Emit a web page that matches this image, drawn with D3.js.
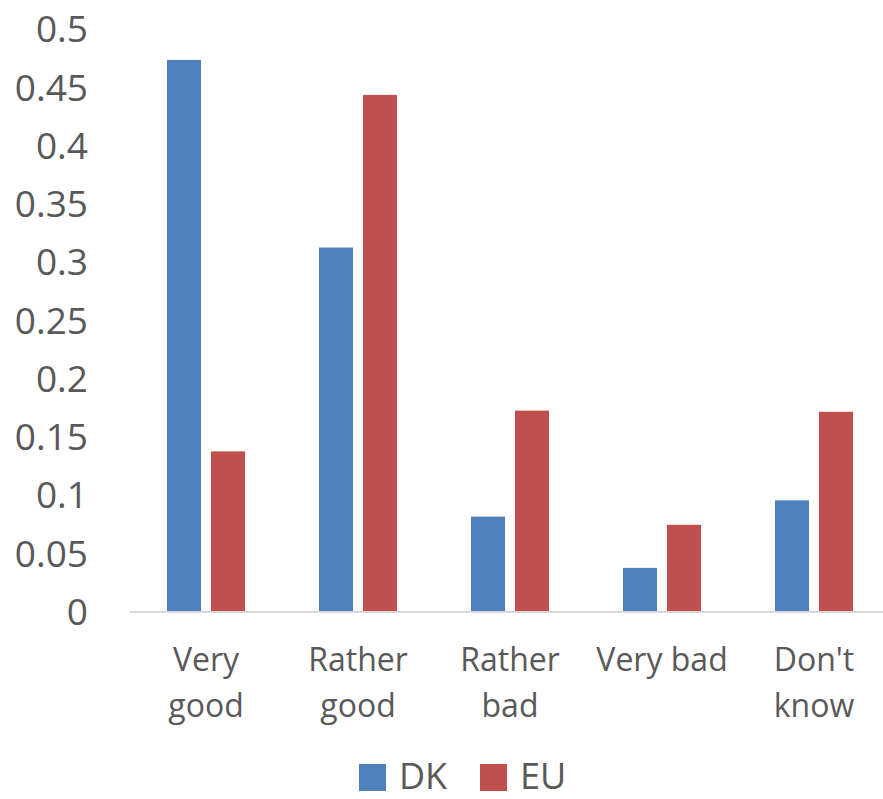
<!DOCTYPE html>
<html>
<head>
<meta charset="utf-8">
<script src="https://cdn.jsdelivr.net/npm/d3@7"></script>
<style>
  html, body { margin: 0; padding: 0; background: #fff; }
  svg { display: block; }
  text { font-family: "Open Sans", sans-serif; fill: #595959; }
</style>
</head>
<body>
<svg id="chart" width="883" height="799"></svg>
<script>
// Survey answers, share of respondents
const categories = [["Very", "good"], ["Rather", "good"], ["Rather", "bad"], ["Very bad"], ["Don't", "know"]];
const seriesNames = ["DK", "EU"];
const dkValues = [0.473, 0.312, 0.081, 0.037, 0.095];
const euValues = [0.137, 0.443, 0.172, 0.074, 0.171];
const tickValues = [0, 0.05, 0.1, 0.15, 0.2, 0.25, 0.3, 0.35, 0.4, 0.45, 0.5];
const colors = ["#4F81BD", "#C0504D"];

const svg = d3.select("#chart");
const plotLeft = 130, plotRight = 890, plotTop = 28.5, plotBottom = 611;

const catKeys = categories.map(c => c.join(" "));
const x0 = d3.scaleBand().domain(catKeys).range([plotLeft, plotRight]).padding(0);
const groupW = 78;
const x1 = d3.scaleBand().domain(seriesNames).range([0, groupW]).paddingInner(0.227);
const y = d3.scaleLinear().domain([0, 0.5]).range([plotBottom, plotTop]);

// y-axis tick labels (no axis line, no gridlines)
const yAxis = d3.axisLeft(y).tickValues(tickValues).tickSize(0).tickPadding(0)
  .tickFormat(d => String(+d.toFixed(2)));
const gy = svg.append("g").attr("transform", "translate(88,0)").call(yAxis);
gy.select(".domain").remove();
gy.selectAll("text").style("font-size", "37px").style("fill", "#595959")
  .style("font-family", "'Open Sans', sans-serif").attr("dy", "0.36em");

// bars
const rows = catKeys.map((k, i) => ({ key: k, values: [dkValues[i], euValues[i]] }));
const groups = svg.append("g").selectAll("g").data(rows).join("g")
  .attr("transform", d => `translate(${x0(d.key) + x0.bandwidth() / 2 - groupW / 2},0)`);
groups.selectAll("rect").data(d => d.values.map((v, j) => ({ name: seriesNames[j], v, j })))
  .join("rect")
  .attr("x", d => x1(d.name))
  .attr("width", x1.bandwidth())
  .attr("y", d => y(d.v))
  .attr("height", d => y(0) - y(d.v))
  .attr("fill", d => colors[d.j]);

// category axis line
svg.append("line").attr("x1", plotLeft).attr("x2", plotRight)
  .attr("y1", plotBottom + 1).attr("y2", plotBottom + 1)
  .attr("stroke", "#d9d9d9").attr("stroke-width", 2);

// category labels
const labels = svg.append("g").selectAll("text").data(categories).join("text")
  .attr("text-anchor", "middle")
  .attr("x", (d, i) => x0(catKeys[i]) + x0.bandwidth() / 2)
  .attr("y", 671)
  .style("font-size", "32px");
labels.selectAll("tspan").data(d => d).join("tspan")
  .attr("x", function () { return d3.select(this.parentNode).attr("x"); })
  .attr("dy", (d, i) => i === 0 ? 0 : 46)
  .text(d => d);

// legend
const legend = svg.append("g");
const legendX = [359, 480];
seriesNames.forEach((name, i) => {
  legend.append("rect").attr("x", legendX[i]).attr("y", 764)
    .attr("width", 27).attr("height", 27).attr("fill", colors[i]);
  legend.append("text").attr("x", legendX[i] + 40).attr("y", 789)
    .style("font-size", "36px").text(name);
});
</script>
</body>
</html>
